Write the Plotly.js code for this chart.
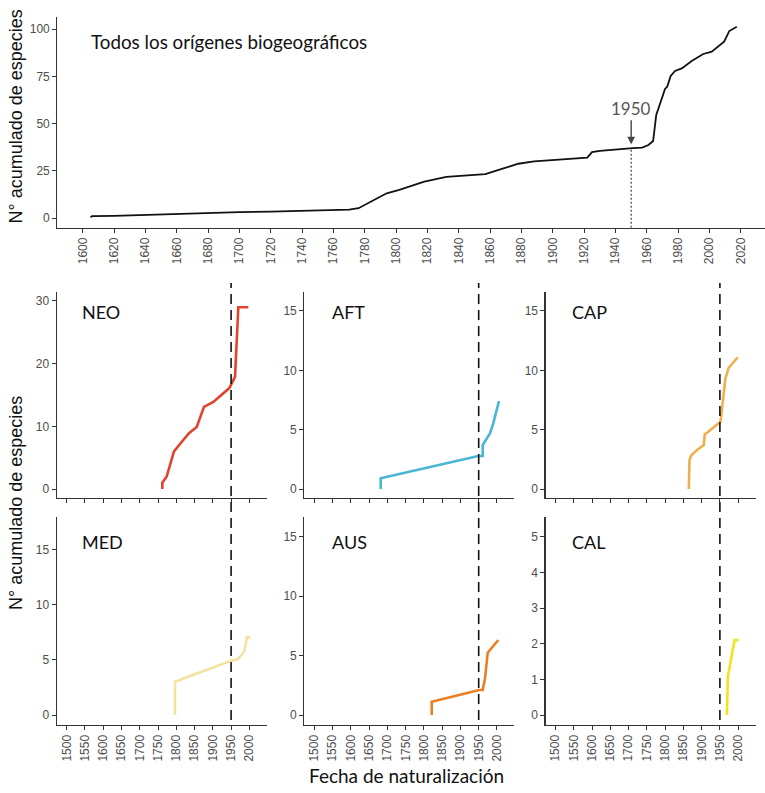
<!DOCTYPE html>
<html>
<head>
<meta charset="utf-8">
<script src="https://cdn.plot.ly/plotly-3.0.1.min.js"></script>
<style>
  html, body { margin: 0; padding: 0; background: #fff; }
  #chart { width: 765px; height: 793px; }
</style>
</head>
<body>
<div id="chart"></div>
<script>
// ---------- DATA ----------
const allYears  = [1605, 1606, 1620, 1640, 1660, 1680, 1700, 1720, 1740, 1760, 1770, 1776, 1785, 1794, 1802, 1810, 1818, 1832, 1840, 1857, 1868, 1878, 1888, 1898, 1910, 1922, 1925, 1930, 1951, 1957, 1961, 1964, 1966, 1968.4, 1971.6, 1973, 1975.2, 1978, 1982.3, 1988.6, 1996, 2001.4, 2005.6, 2009.3, 2012.6, 2017.4];
const allValues = [0.5, 1.1, 1.3, 1.8, 2.4, 2.9, 3.2, 3.5, 3.8, 4.2, 4.6, 5.3, 9.2, 13.2, 15.0, 17.1, 19.3, 21.9, 22.4, 23.3, 26.2, 28.8, 30.0, 30.6, 31.2, 32.0, 34.9, 35.6, 37.0, 37.3, 38.7, 40.8, 54.6, 60.4, 68.3, 69.5, 75.2, 77.8, 79.2, 83.1, 86.8, 88.0, 90.7, 93.3, 98.9, 101.2];

const neoYears  = [1761.7, 1761.7, 1773.7, 1793.7, 1814.7, 1834.8, 1855.9, 1875.8, 1901.4, 1924.3, 1945.2, 1960.8, 1969.8, 1997.3];
const neoValues = [0, 1.0, 2.0, 6.0, 7.5, 8.9, 9.9, 13.1, 13.9, 15.0, 16.1, 17.9, 29.0, 29.0];

const aftYears  = [1681.7, 1681.7, 1948.9, 1961, 1961, 1980.9, 1989.9, 2005.6];
const aftValues = [0, 0.9, 2.78, 2.78, 3.71, 4.69, 5.53, 7.41];

const capYears  = [1864.9, 1866.8, 1872.3, 1887.6, 1905.9, 1908.7, 1915, 1947, 1951.6, 1965.3, 1974.4, 1999];
const capValues = [0, 2.44, 2.86, 3.29, 3.71, 4.63, 4.74, 5.59, 5.67, 9.32, 10.22, 11.1];

const medYears  = [1796.4, 1796.4, 1949.7, 1968, 1986.1, 1993.5, 2002.6];
const medValues = [0, 3.02, 4.92, 5.04, 5.73, 7.03, 7.03];

const ausYears  = [1821.4, 1821.4, 1951.7, 1961, 1967.3, 1974.7, 2003.7];
const ausValues = [0, 1.12, 2.10, 2.10, 3.08, 5.24, 6.31];

const calYears  = [1969.2, 1971.9, 1990, 2000.9];
const calValues = [0, 1.07, 2.10, 2.10];

const panelNames  = ["NEO", "AFT", "CAP", "MED", "AUS", "CAL"];
const panelColors = ["#e2432d", "#4bb6d3", "#eeb04e", "#f4e3a0", "#e97f20", "#f1e41e"];
const topTicks    = [1600, 1620, 1640, 1660, 1680, 1700, 1720, 1740, 1760, 1780, 1800, 1820, 1840, 1860, 1880, 1900, 1920, 1940, 1960, 1980, 2000, 2020];
const topYTicks   = [0, 25, 50, 75, 100];
const panelXTicks = [1500, 1550, 1600, 1650, 1700, 1750, 1800, 1850, 1900, 1950, 2000];
const panelYTicks = [[0, 10, 20, 30], [0, 5, 10, 15], [0, 5, 10, 15], [0, 5, 10, 15], [0, 5, 10, 15], [0, 1, 2, 3, 4, 5]];
const markYear = 1950;
const titleMain = "Todos los orígenes biogeográficos";
const yTitle = "N° acumulado de especies";
const xTitle = "Fecha de naturalización";

// ---------- LAYOUT HELPERS ----------
const W = 765, H = 793;
const px = v => v / W;
const py = v => 1 - v / H;

// value of the all-origins curve at markYear (interpolated from data)
function interp(xs, ys, x) {
  for (let i = 1; i < xs.length; i++) {
    if (x <= xs[i]) {
      const t = (x - xs[i-1]) / (xs[i] - xs[i-1]);
      return ys[i-1] + t * (ys[i] - ys[i-1]);
    }
  }
  return ys[ys.length - 1];
}
const markValue = interp(allYears, allValues, markYear);

const tickFont = {family: "Liberation Sans, Arial, sans-serif", size: 12, color: "#4d4d4d"};
function axisBase(extra) {
  return Object.assign({
    showline: true, linecolor: "#333", linewidth: 1.1,
    ticks: "outside", ticklen: 4, tickcolor: "#333", tickwidth: 1,
    showgrid: false, zeroline: false, tickfont: tickFont, fixedrange: true,
    tickmode: "array"
  }, extra);
}

const colDomains = [[px(56.7), px(266.7)], [px(304.3), px(514.3)], [px(545.5), px(755.5)]];
const rowDomains = [[py(498.3), py(291.7)], [py(725), py(516.7)]];
const yRanges = [[-1.48, 31.47], [-0.78, 16.62], [-0.78, 16.62], [-0.9, 17.95], [-0.84, 16.68], [-0.28, 5.56]];
const panelX = [[neoYears, neoValues], [aftYears, aftValues], [capYears, capValues], [medYears, medValues], [ausYears, ausValues], [calYears, calValues]];

const layout = {
  width: W, height: H,
  margin: {l: 0, r: 0, t: 0, b: 0},
  paper_bgcolor: "#fff", plot_bgcolor: "#fff",
  showlegend: false,
  xaxis: axisBase({domain: [px(57.3), 1], range: [1583.8, 2035.4], tickvals: topTicks, tickangle: -90, anchor: "y"}),
  yaxis: axisBase({domain: [py(227.7), py(16.7)], range: [-5, 106.5], tickvals: topYTicks, anchor: "x"}),
  shapes: [],
  annotations: []
};

const traces = [{
  x: allYears, y: allValues, type: "scatter", mode: "lines",
  line: {color: "#111", width: 1.8}, xaxis: "x", yaxis: "y", hoverinfo: "skip"
}];

for (let i = 0; i < 6; i++) {
  const n = i + 2;
  const col = i % 3, row = Math.floor(i / 3);
  layout["xaxis" + n] = axisBase({
    domain: colDomains[col], range: [1472.6, 2047.5], tickvals: panelXTicks,
    tickangle: -90, showticklabels: row === 1, anchor: "y" + n
  });
  layout["yaxis" + n] = axisBase({
    domain: rowDomains[row], range: yRanges[i], tickvals: panelYTicks[i], anchor: "x" + n
  });
  traces.push({
    x: panelX[i][0], y: panelX[i][1], type: "scatter", mode: "lines",
    line: {color: panelColors[i], width: 2.6}, xaxis: "x" + n, yaxis: "y" + n, hoverinfo: "skip"
  });
  const xOff = [80, 330, 570][col];
  const yOff = row === 0 ? 311.5 : 541.5;
  layout.annotations.push({
    text: panelNames[i], xref: "paper", yref: "paper", x: px(xOff), y: py(yOff),
    xanchor: "left", yanchor: "middle", showarrow: false,
    font: {family: "Lato, Open Sans, sans-serif", size: 18, color: "#111"}
  });
}

// dashed 1950 lines spanning both rows of each column
for (let col = 0; col < 3; col++) {
  layout.shapes.push({
    type: "line", xref: "x" + (col + 2), yref: "paper",
    x0: markYear, x1: markYear, y0: py(720), y1: py(283),
    line: {color: "#111", width: 1.6, dash: "10px,6px"}
  });
}
// dotted line on the top panel
layout.shapes.push({
  type: "line", xref: "x", yref: "y", x0: markYear, x1: markYear, y0: -5, y1: markValue,
  line: {color: "#333", width: 1.1, dash: "2px,2px"}
});

layout.annotations.push(
  {text: titleMain, xref: "paper", yref: "paper", x: px(89), y: py(41), xanchor: "left", yanchor: "middle",
   showarrow: false, font: {family: "Lato, Open Sans, sans-serif", size: 18.8, color: "#111"}},
  {text: String(markYear), xref: "x", yref: "y", x: markYear, y: markValue, ax: 0, ay: -40,
   showarrow: true, arrowhead: 2, arrowsize: 1.1, arrowwidth: 1.4, arrowcolor: "#444", standoff: 4,
   font: {family: "Lato, Open Sans, sans-serif", size: 17, color: "#555"}},
  {text: yTitle, xref: "paper", yref: "paper", x: px(15), y: py(116.5), xanchor: "center", yanchor: "middle",
   textangle: -90, showarrow: false, font: {family: "Liberation Sans, Arial, sans-serif", size: 18, color: "#111"}},
  {text: yTitle, xref: "paper", yref: "paper", x: px(15.5), y: py(503.5), xanchor: "center", yanchor: "middle",
   textangle: -90, showarrow: false, font: {family: "Liberation Sans, Arial, sans-serif", size: 18, color: "#111"}},
  {text: xTitle, xref: "paper", yref: "paper", x: px(406), y: py(775), xanchor: "center", yanchor: "middle",
   showarrow: false, font: {family: "Lato, Open Sans, sans-serif", size: 19, color: "#111"}}
);

Plotly.newPlot("chart", traces, layout, {staticPlot: true, displayModeBar: false});
</script>
</body>
</html>
